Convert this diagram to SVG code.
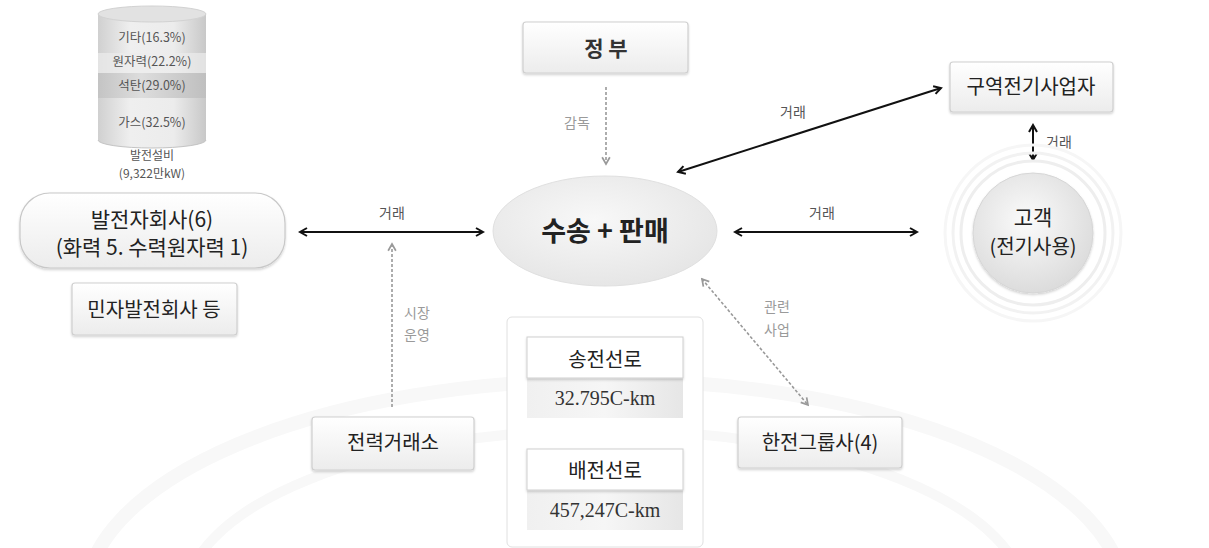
<svg xmlns="http://www.w3.org/2000/svg" width="1209" height="548" viewBox="0 0 1209 548">
<defs>
<style>
text{font-family:"Noto Sans CJK KR","Noto Sans",sans-serif;text-anchor:middle;fill:#222}
.node{fill:url(#boxg);stroke:#cfcfcf;stroke-width:1.2}
.lbl{font-size:14px;fill:#555}
.lbl2{font-size:14px;fill:#9a9a9a}
.big{font-size:21px}
.conn{stroke:#111;stroke-width:2;fill:none}
.dash{stroke:#999;stroke-width:1.6;fill:none;stroke-dasharray:3 2}
.serif{font-family:"Liberation Serif","Noto Serif CJK KR",serif;font-size:20px;fill:#333}
.cyl{font-size:12.5px;fill:#555}
</style>
<linearGradient id="boxg" x1="0" y1="0" x2="0" y2="1">
<stop offset="0" stop-color="#ffffff"/><stop offset="1" stop-color="#ececec"/>
</linearGradient>
<linearGradient id="valg" x1="0" y1="0" x2="1" y2="0">
<stop offset="0" stop-color="#f0f0f0"/><stop offset="0.5" stop-color="#f6f6f6"/><stop offset="1" stop-color="#e6e6e6"/>
</linearGradient>
<linearGradient id="cylg" x1="0" y1="0" x2="1" y2="0">
<stop offset="0" stop-color="#d0d0d0"/><stop offset="0.3" stop-color="#efefef"/><stop offset="0.7" stop-color="#ececec"/><stop offset="1" stop-color="#c8c8c8"/>
</linearGradient>
<linearGradient id="cylg2" x1="0" y1="0" x2="1" y2="0">
<stop offset="0" stop-color="#c4c4c4"/><stop offset="0.4" stop-color="#dddddd"/><stop offset="1" stop-color="#bfbfbf"/>
</linearGradient>
<radialGradient id="ellg" cx="0.45" cy="0.4" r="0.6">
<stop offset="0" stop-color="#f8f8f8"/><stop offset="1" stop-color="#e6e6e6"/>
</radialGradient>
<radialGradient id="circg" cx="0.45" cy="0.4" r="0.6">
<stop offset="0" stop-color="#fbfbfb"/><stop offset="1" stop-color="#dcdcdc"/>
</radialGradient>
<filter id="sh" x="-10%" y="-10%" width="120%" height="130%">
<feDropShadow dx="0" dy="1.5" stdDeviation="1.2" flood-color="#000" flood-opacity="0.18"/>
</filter>
<marker id="ah" viewBox="0 0 10 10" refX="8" refY="5" markerWidth="5" markerHeight="5" orient="auto-start-reverse" markerUnits="strokeWidth">
<path d="M1,1 L8,5 L1,9" fill="none" stroke="#111" stroke-width="2"/>
</marker>
<marker id="ahd" viewBox="0 0 10 10" refX="8" refY="5" markerWidth="6" markerHeight="6" orient="auto-start-reverse" markerUnits="strokeWidth">
<path d="M1,1 L8,5 L1,9" fill="none" stroke="#999" stroke-width="1.8"/>
</marker>
</defs>
<rect width="1209" height="548" fill="#ffffff"/>
<g id="background" fill="none" stroke="#f8f8f8">
<ellipse cx="605" cy="600" rx="520" ry="220" stroke-width="14"/>
<ellipse cx="605" cy="600" rx="420" ry="170" stroke-width="10"/>
</g>

<g id="connectors">
<line class="conn" x1="300" y1="232" x2="483" y2="232" marker-start="url(#ah)" marker-end="url(#ah)"/>
<line class="conn" x1="735" y1="232" x2="917" y2="232" marker-start="url(#ah)" marker-end="url(#ah)"/>
<line class="conn" x1="678" y1="172" x2="941" y2="88" marker-start="url(#ah)" marker-end="url(#ah)"/>
<line class="conn" x1="1033" y1="125" x2="1033" y2="160" marker-start="url(#ah)" marker-end="url(#ah)"/>
<line class="dash" x1="606" y1="87" x2="606" y2="164" marker-end="url(#ahd)"/>
<line class="dash" x1="392" y1="407" x2="392" y2="244" marker-end="url(#ahd)"/>
<line class="dash" x1="702" y1="279" x2="808" y2="405" marker-start="url(#ahd)" marker-end="url(#ahd)"/>
<text class="lbl" x="392" y="218">거래</text>
<text class="lbl" x="822" y="218">거래</text>
<text class="lbl" x="793" y="117">거래</text>
<text class="lbl" x="1059" y="147">거래</text>
<text class="lbl2" x="577" y="128">감독</text>
<text class="lbl2" x="417" y="318">시장</text>
<text class="lbl2" x="417" y="340">운영</text>
<text class="lbl2" x="777" y="312">관련</text>
<text class="lbl2" x="777" y="335">사업</text>
</g>

<g id="cylinder">
<path d="M98,14 L98,140 A54,8 0 0 0 206,140 L206,14 Z" fill="url(#cylg)"/>
<rect x="98" y="73" width="108" height="25" fill="url(#cylg2)"/>
<rect x="98" y="53" width="108" height="20" fill="#ececec" opacity="0.7"/>
<path d="M98,140 A54,8 0 0 0 206,140" fill="none" stroke="#c4c4c4" stroke-width="1"/>
<ellipse cx="152" cy="14" rx="54" ry="8" fill="#e2e2e2" stroke="#d2d2d2"/>
<text class="cyl" x="152" y="42">기타(16.3%)</text>
<text class="cyl" x="152" y="66">원자력(22.2%)</text>
<text class="cyl" x="152" y="90">석탄(29.0%)</text>
<text class="cyl" x="152" y="127">가스(32.5%)</text>
<text class="cyl" x="152" y="160" style="font-size:12px">발전설비</text>
<text class="cyl" x="152" y="178" style="font-size:12px">(9,322만kW)</text>
</g>

<g id="gen">
<rect x="20" y="193" width="265" height="75" rx="30" fill="url(#boxg)" stroke="#c8c8c8" stroke-width="1.2" filter="url(#sh)"/>
<text class="big" x="152" y="227">발전자회사(6)</text>
<text class="big" x="152" y="255">(화력 5. 수력원자력 1)</text>
</g>

<g id="private">
<rect class="node" x="72" y="283" width="165" height="52" rx="3" filter="url(#sh)"/>
<text class="big" x="154" y="317" style="font-size:20px">민자발전회사 등</text>
</g>

<g id="gov">
<rect class="node" x="523" y="22" width="165" height="51" rx="3" filter="url(#sh)"/>
<text class="big" x="606" y="56" style="font-weight:bold;fill:#333">정 부</text>
</g>

<g id="main">
<ellipse cx="605" cy="231" rx="112" ry="55" fill="url(#ellg)" stroke="#e0e0e0"/>
<text x="605" y="241" style="font-size:27px;font-weight:bold;fill:#222">수송 + 판매</text>
</g>

<g id="district">
<rect class="node" x="950" y="62" width="163" height="50" rx="3" filter="url(#sh)"/>
<text class="big" x="1031" y="94" style="font-size:20px">구역전기사업자</text>
</g>

<g id="customer">
<circle cx="1033" cy="233" r="88" fill="none" stroke="#f6f6f6" stroke-width="3"/>
<circle cx="1033" cy="233" r="80" fill="none" stroke="#f2f2f2" stroke-width="3"/>
<circle cx="1033" cy="233" r="72" fill="none" stroke="#eeeeee" stroke-width="3"/>
<circle cx="1033" cy="233" r="60" fill="url(#circg)" stroke="#d6d6d6" filter="url(#sh)"/>
<text class="big" x="1033" y="225" style="font-size:21px">고객</text>
<text class="big" x="1033" y="254" style="font-size:20px">(전기사용)</text>
</g>

<g id="exchange">
<rect class="node" x="312" y="417" width="162" height="53" rx="3" filter="url(#sh)"/>
<text class="big" x="393" y="450" style="font-size:20px">전력거래소</text>
</g>

<g id="lines">
<rect x="507" y="317" width="196" height="230" rx="5" fill="#ffffff" stroke="#e0e0e0"/>
<rect x="527" y="378" width="156" height="40" fill="url(#valg)"/>
<rect x="527" y="337" width="156" height="41" fill="#ffffff" stroke="#cfcfcf" filter="url(#sh)"/>
<text class="big" x="605" y="367" style="font-size:20px">송전선로</text>
<text class="serif" x="605" y="405">32.795C-km</text>
<rect x="527" y="490" width="156" height="40" fill="url(#valg)"/>
<rect x="527" y="449" width="156" height="41" fill="#ffffff" stroke="#cfcfcf" filter="url(#sh)"/>
<text class="big" x="605" y="478" style="font-size:20px">배전선로</text>
<text class="serif" x="605" y="517">457,247C-km</text>
</g>

<g id="kepco">
<rect class="node" x="738" y="417" width="164" height="51" rx="3" filter="url(#sh)"/>
<text class="big" x="820" y="450" style="font-size:20px">한전그룹사(4)</text>
</g>
</svg>
